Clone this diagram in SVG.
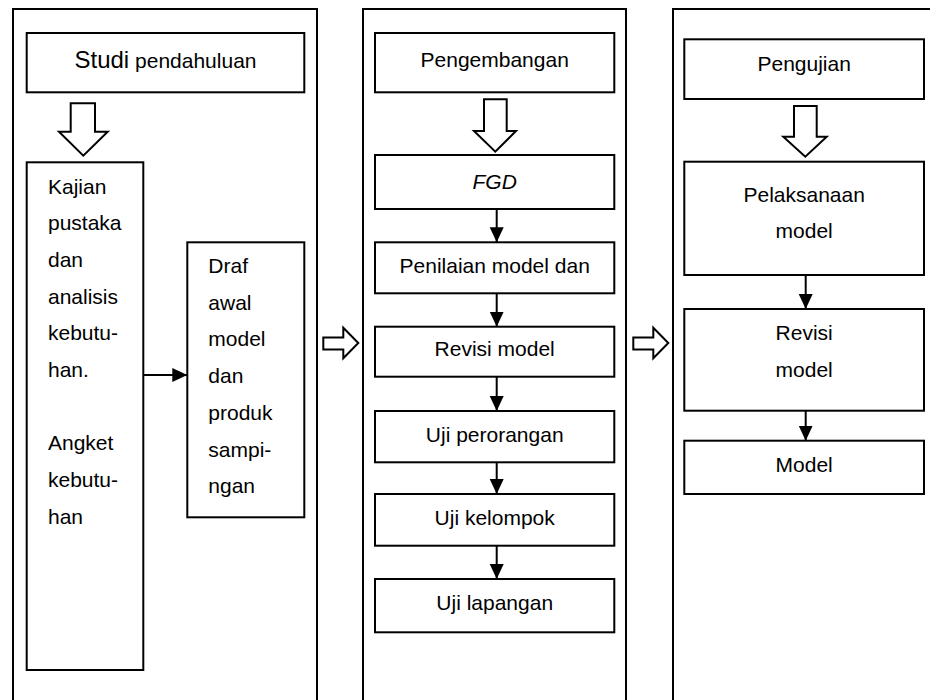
<svg xmlns="http://www.w3.org/2000/svg" width="930" height="700" viewBox="0 0 930 700">
<style>
.panel{fill:none;stroke:#000;stroke-width:2}
.box{fill:#fff;stroke:#000;stroke-width:2}
.hol{fill:#fff;stroke:#000;stroke-width:2;stroke-linejoin:miter}
.t{font-family:"Liberation Sans",Arial,sans-serif;font-size:21px;fill:#000}
.c{text-anchor:middle}
.con{stroke:#000;stroke-width:2;fill:none}
</style>
<defs>
<marker id="ah" markerUnits="userSpaceOnUse" markerWidth="16" markerHeight="16" refX="15" refY="7" orient="auto">
<path d="M0,0 L15,7 L0,14 z" fill="#000"/>
</marker>
</defs>
<rect width="930" height="700" fill="#fff"/>
<g id="panels">
<rect class="panel" x="13" y="9" width="304" height="710"/>
<rect class="panel" x="363" y="9" width="263" height="710"/>
<rect class="panel" x="673" y="9" width="280" height="710"/>
</g>
<g id="hollow-arrows">
<polygon class="hol" points="70.7,103.3 95,103.3 95,131.7 107.7,131.7 83.3,155.7 59,131.7 70.7,131.7"/>
<polygon class="hol" points="484,99.3 506.7,99.3 506.7,131 516,131 495.3,151.7 474,131 484,131"/>
<polygon class="hol" points="794,106 816.7,106 816.7,136.7 826.7,136.7 805.3,156.7 783.3,136.7 794,136.7"/>
<polygon class="hol" points="323.3,337.5 343.3,337.5 343.3,327.7 358.3,343 343.3,358.3 343.3,349.5 323.3,349.5"/>
<polygon class="hol" points="633.3,337.5 653.3,337.5 653.3,327.7 668.3,343 653.3,358.3 653.3,349.5 633.3,349.5"/>
</g>
<g id="n-studi">
<rect class="box" x="26.7" y="33" width="277.6" height="59.3"/>
<text class="t c" x="165.5" y="68"><tspan font-size="24">Studi</tspan> pendahuluan</text>
</g>
<g id="n-kajian">
<rect class="box" x="26.7" y="162.3" width="116.6" height="507.7"/>
<text class="t" x="48" y="193.5">Kajian</text>
<text class="t" x="48" y="230.2">pustaka</text>
<text class="t" x="48" y="266.9">dan</text>
<text class="t" x="48" y="303.6">analisis</text>
<text class="t" x="48" y="340.3">kebutu-</text>
<text class="t" x="48" y="377">han.</text>
<text class="t" x="48" y="450.4">Angket</text>
<text class="t" x="48" y="487.1">kebutu-</text>
<text class="t" x="48" y="523.8">han</text>
</g>
<g id="n-draf">
<rect class="box" x="187.3" y="242.3" width="117" height="275"/>
<text class="t" x="208.3" y="273">Draf</text>
<text class="t" x="208.3" y="309.7">awal</text>
<text class="t" x="208.3" y="346.4">model</text>
<text class="t" x="208.3" y="383.1">dan</text>
<text class="t" x="208.3" y="419.8">produk</text>
<text class="t" x="208.3" y="456.5">sampi-</text>
<text class="t" x="208.3" y="493.2">ngan</text>
</g>
<g id="n-pengembangan">
<rect class="box" x="375" y="33" width="239.3" height="59.3"/>
<text class="t c" x="494.7" y="66.5">Pengembangan</text>
</g>
<g id="n-fgd">
<rect class="box" x="375" y="155" width="239.3" height="54"/>
<text class="t c" x="494.7" y="188.5" font-style="italic">FGD</text>
</g>
<g id="n-penilaian">
<rect class="box" x="375" y="242.3" width="239.3" height="51"/>
<text class="t c" x="494.7" y="272.7">Penilaian model dan</text>
</g>
<g id="n-revisi1">
<rect class="box" x="375" y="326.7" width="239.3" height="50"/>
<text class="t c" x="494.7" y="356">Revisi model</text>
</g>
<g id="n-perorangan">
<rect class="box" x="375" y="411" width="239.3" height="51.3"/>
<text class="t c" x="494.7" y="442.3">Uji perorangan</text>
</g>
<g id="n-kelompok">
<rect class="box" x="375" y="494" width="239.3" height="51.7"/>
<text class="t c" x="494.7" y="525">Uji kelompok</text>
</g>
<g id="n-lapangan">
<rect class="box" x="375" y="579" width="239.3" height="53.3"/>
<text class="t c" x="494.7" y="610">Uji lapangan</text>
</g>
<g id="n-pengujian">
<rect class="box" x="684.3" y="39.3" width="239.7" height="59.7"/>
<text class="t c" x="804.2" y="70.7">Pengujian</text>
</g>
<g id="n-pelaksanaan">
<rect class="box" x="684.3" y="161.7" width="239.7" height="113.3"/>
<text class="t c" x="804.2" y="201.7">Pelaksanaan</text>
<text class="t c" x="804.2" y="238.4">model</text>
</g>
<g id="n-revisi2">
<rect class="box" x="684.3" y="309" width="239.7" height="101.7"/>
<text class="t c" x="804.2" y="340">Revisi</text>
<text class="t c" x="804.2" y="376.7">model</text>
</g>
<g id="n-model">
<rect class="box" x="684.3" y="440.7" width="239.7" height="53.3"/>
<text class="t c" x="804.2" y="471.7">Model</text>
</g>
<g id="connectors">
<line class="con" x1="143.3" y1="375" x2="187.3" y2="375" marker-end="url(#ah)"/>
<line class="con" x1="496.7" y1="209" x2="496.7" y2="242.3" marker-end="url(#ah)"/>
<line class="con" x1="496.7" y1="293.3" x2="496.7" y2="326.7" marker-end="url(#ah)"/>
<line class="con" x1="496.7" y1="376.7" x2="496.7" y2="411" marker-end="url(#ah)"/>
<line class="con" x1="496.7" y1="462.3" x2="496.7" y2="494" marker-end="url(#ah)"/>
<line class="con" x1="496.7" y1="545.7" x2="496.7" y2="579" marker-end="url(#ah)"/>
<line class="con" x1="805.7" y1="275" x2="805.7" y2="309" marker-end="url(#ah)"/>
<line class="con" x1="805.7" y1="410.7" x2="805.7" y2="440.7" marker-end="url(#ah)"/>
</g>
</svg>
